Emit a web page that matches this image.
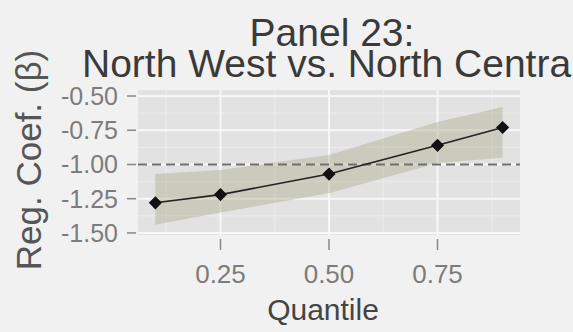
<!DOCTYPE html>
<html lang="en">
  <head>
    <meta charset="UTF-8" />
    <title>Panel 23</title>
    <style>
      body {
        margin: 0;
        background: #f1f1f1;
      }
      svg {
        display: block;
        font-family: "Liberation Sans", Arial, sans-serif;
      }
    </style>
  </head>
  <body>
    <div id="chart"></div>
    <script src="https://d3js.org/d3.v7.min.js"></script>
    <script>
      const quantiles = [0.1, 0.25, 0.5, 0.75, 0.9];
      const coef = [-1.28, -1.22, -1.07, -0.86, -0.73];
      const lower = [-1.44, -1.35, -1.21, -0.99, -0.95];
      const upper = [-1.07, -1.04, -0.93, -0.69, -0.58];
      const xTicks = [0.25, 0.5, 0.75];
      const xTickLabels = ["0.25", "0.50", "0.75"];
      const yTicks = [-0.5, -0.75, -1.0, -1.25, -1.5];
      const yTickLabels = ["-0.50", "-0.75", "-1.00", "-1.25", "-1.50"];
      const refLine = -1.0;

      const width = 573,
        height = 332;
      const panel = { left: 138, right: 520, top: 90, bottom: 235 };

      const data = quantiles.map((q, i) => ({
        q: q,
        coef: coef[i],
        lo: lower[i],
        hi: upper[i],
      }));

      const svg = d3
        .select("#chart")
        .append("svg")
        .attr("width", width)
        .attr("height", height);

      const x = d3
        .scaleLinear()
        .domain([0.06, 0.94])
        .range([panel.left, panel.right]);
      const y = d3
        .scaleLinear()
        .domain([-1.515, -0.456])
        .range([panel.bottom, panel.top]);

      // panel background
      svg
        .append("rect")
        .attr("x", panel.left)
        .attr("y", panel.top)
        .attr("width", panel.right - panel.left)
        .attr("height", panel.bottom - panel.top)
        .attr("fill", "#e2e2e2");

      // minor grid
      const xMinor = [0.125, 0.375, 0.625, 0.875];
      const yMinor = [-0.625, -0.875, -1.125, -1.375];
      svg
        .append("g")
        .selectAll("line")
        .data(xMinor)
        .join("line")
        .attr("x1", (d) => x(d))
        .attr("x2", (d) => x(d))
        .attr("y1", panel.top)
        .attr("y2", panel.bottom)
        .attr("stroke", "#ececec")
        .attr("stroke-width", 1);
      svg
        .append("g")
        .selectAll("line")
        .data(yMinor)
        .join("line")
        .attr("x1", panel.left)
        .attr("x2", panel.right)
        .attr("y1", (d) => y(d))
        .attr("y2", (d) => y(d))
        .attr("stroke", "#ececec")
        .attr("stroke-width", 1);

      // major grid
      svg
        .append("g")
        .selectAll("line")
        .data(xTicks)
        .join("line")
        .attr("x1", (d) => x(d))
        .attr("x2", (d) => x(d))
        .attr("y1", panel.top)
        .attr("y2", panel.bottom)
        .attr("stroke", "#f7f7f7")
        .attr("stroke-width", 2);
      svg
        .append("g")
        .selectAll("line")
        .data(yTicks)
        .join("line")
        .attr("x1", panel.left)
        .attr("x2", panel.right)
        .attr("y1", (d) => y(d))
        .attr("y2", (d) => y(d))
        .attr("stroke", "#f7f7f7")
        .attr("stroke-width", 2);

      // confidence ribbon
      const area = d3
        .area()
        .x((d) => x(d.q))
        .y0((d) => y(d.lo))
        .y1((d) => y(d.hi));
      svg
        .append("path")
        .datum(data)
        .attr("d", area)
        .attr("fill", "#a8a888")
        .attr("fill-opacity", 0.4);

      // reference line
      svg
        .append("line")
        .attr("x1", panel.left)
        .attr("x2", panel.right)
        .attr("y1", y(refLine))
        .attr("y2", y(refLine))
        .attr("stroke", "#6e6e6e")
        .attr("stroke-width", 2)
        .attr("stroke-dasharray", "9,5");

      // estimate line
      const line = d3
        .line()
        .x((d) => x(d.q))
        .y((d) => y(d.coef));
      svg
        .append("path")
        .datum(data)
        .attr("d", line)
        .attr("fill", "none")
        .attr("stroke", "#222")
        .attr("stroke-width", 1.6);

      // diamonds
      svg
        .append("g")
        .selectAll("path")
        .data(data)
        .join("path")
        .attr("d", d3.symbol(d3.symbolDiamond2, 110)())
        .attr("transform", (d) => `translate(${x(d.q)},${y(d.coef)})`)
        .attr("fill", "#111");

      // axes
      const xAxis = svg.append("g");
      xAxis
        .selectAll("line")
        .data(xTicks)
        .join("line")
        .attr("x1", (d) => x(d))
        .attr("x2", (d) => x(d))
        .attr("y1", panel.bottom + 4)
        .attr("y2", panel.bottom + 15)
        .attr("stroke", "#888")
        .attr("stroke-width", 1.5);
      xAxis
        .selectAll("text")
        .data(xTicks)
        .join("text")
        .attr("x", (d) => x(d))
        .attr("y", 283)
        .attr("text-anchor", "middle")
        .attr("font-size", 26)
        .attr("fill", "#7c7c7c")
        .text((d, i) => xTickLabels[i]);

      const yAxis = svg.append("g");
      yAxis
        .selectAll("line")
        .data(yTicks)
        .join("line")
        .attr("x1", panel.left - 11)
        .attr("x2", panel.left - 2)
        .attr("y1", (d) => y(d))
        .attr("y2", (d) => y(d))
        .attr("stroke", "#888")
        .attr("stroke-width", 1.5);
      yAxis
        .selectAll("text")
        .data(yTicks)
        .join("text")
        .attr("x", 118)
        .attr("y", (d) => y(d) + 9)
        .attr("text-anchor", "end")
        .attr("font-size", 25)
        .attr("fill", "#7c7c7c")
        .text((d, i) => yTickLabels[i]);

      // titles
      svg
        .append("text")
        .attr("x", 332)
        .attr("y", 46)
        .attr("text-anchor", "middle")
        .attr("font-size", 39)
        .attr("fill", "#3a3a3a")
        .text("Panel 23:");
      svg
        .append("text")
        .attr("x", 82)
        .attr("y", 77)
        .attr("font-size", 39)
        .attr("fill", "#3a3a3a")
        .text("North West vs. North Central");

      svg
        .append("text")
        .attr("x", 323)
        .attr("y", 320)
        .attr("text-anchor", "middle")
        .attr("font-size", 30)
        .attr("fill", "#444")
        .text("Quantile");

      svg
        .append("text")
        .attr("transform", "translate(41,160) rotate(-90)")
        .attr("text-anchor", "middle")
        .attr("font-size", 35)
        .attr("fill", "#555")
        .text("Reg. Coef. (β)");
    </script>
  </body>
</html>
